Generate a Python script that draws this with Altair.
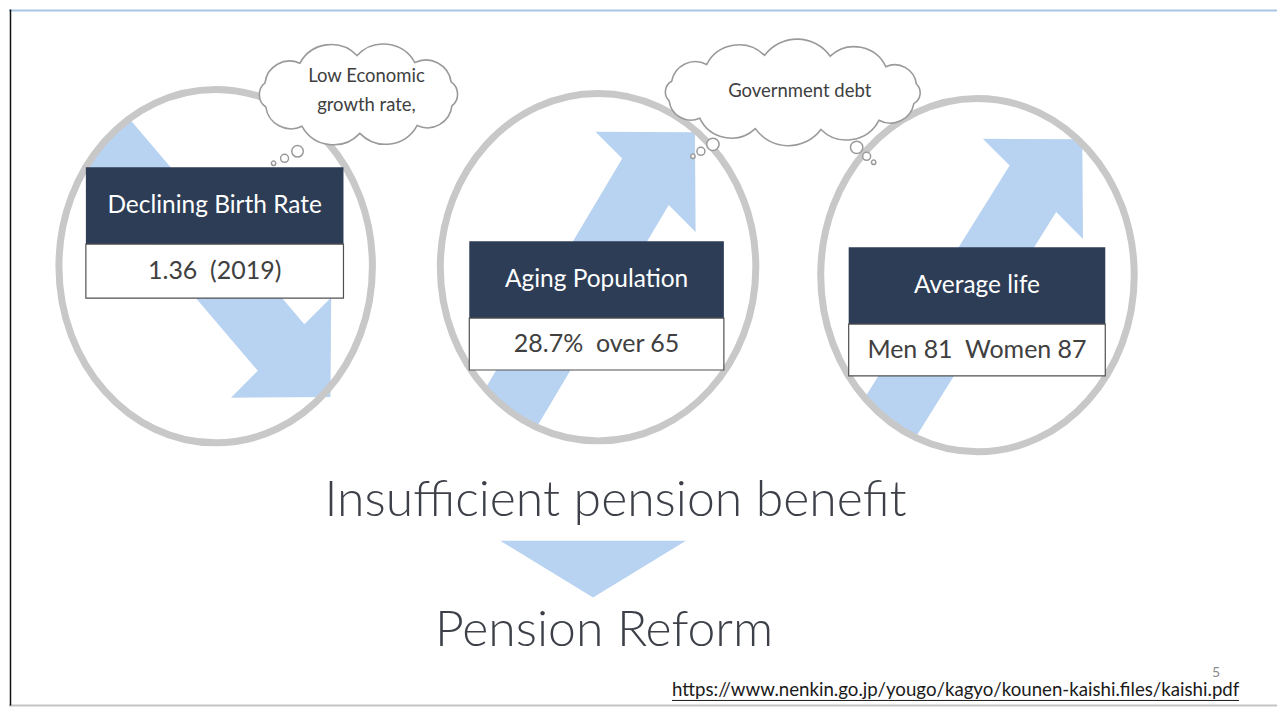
import math
import altair as alt
import pandas as pd

# ---------------- content (text) ----------------
factor_titles = ["Declining Birth Rate", "Aging Population", "Average life"]
factor_values = ["1.36  (2019)", "28.7%  over 65", "Men 81  Women 87"]
thought_text = ["Low Economic", "growth rate,", "Government debt"]
conclusion_text = ["Insufficient pension benefit", "Pension Reform"]
source_url = "https://www.nenkin.go.jp/yougo/kagyo/kounen-kaishi.files/kaishi.pdf"
page_number = "5"

# ---------------- layout (page pixels) ----------------
W, H = 1270, 699
X0, Y0 = 8, 8

ring_cx = [215, 598, 978]
ring_cy = [265, 266, 274]
ring_rx = [157, 158, 157]
ring_ry = [177, 174, 177]

arrow_tail = [(92, 125), (490, 442), (876, 440)]
arrow_tip = [(330, 396), (695, 131), (1083, 138)]
arrow_head_dir = [(1, 1), (1, -1), (1, -1)]

box_x1 = [85, 469, 849]
box_x2 = [343, 724, 1106]
box_top = [166, 240, 246]
box_mid = [243, 317, 323]
box_bot = [297, 369, 375]

cloud_cx = [358, 793]
cloud_cy = [93, 91]
cloud_rx = [110, 139]
cloud_ry = [51, 50]
cloud_n = [10, 12]

bubble_x = [297, 284, 273, 713, 701, 693, 857, 867, 874]
bubble_y = [150, 157, 162, 143, 150, 155, 146, 155, 161]
bubble_r = [6.5, 4.5, 2.5, 7, 4.5, 2.5, 7, 4.5, 2.5]

thought_x = [366, 366, 800]
thought_y = [75, 104, 90]

FONT = "Lato"
BLUE = "#b8d3f1"
NAVY = "#2e3d56"
GRAY_TXT = "#404040"

xs = alt.Scale(domain=[X0, X0 + W], nice=False, zero=False)
ys = alt.Scale(domain=[Y0, Y0 + H], nice=False, zero=False, reverse=True)


def X(f):
    return alt.X(f + ":Q", scale=xs, axis=None)


def Y(f):
    return alt.Y(f + ":Q", scale=ys, axis=None)


def fmt(v):
    return f"{v:.1f}"


def keep_spaces(s):
    return s.replace("  ", " \u00a0")


def ellipse_path(rx, ry):
    return (f"M {-rx} 0 A {rx} {ry} 0 1 0 {rx} 0 "
            f"A {rx} {ry} 0 1 0 {-rx} 0 Z")


def arrow_path(tail, tip, hdir, ring, w=33, hw=71, hl=70):
    """Arrow polygon: 90-degree head along hdir, shaft from tail, tail end clipped to ring."""
    cx, cy, rx, ry = ring
    rx, ry = rx + 1, ry + 1
    hL = math.hypot(*hdir)
    hx, hy = hdir[0] / hL, hdir[1] / hL
    mx, my = -hy, hx
    bx, by = tip[0] - hl * hx, tip[1] - hl * hy
    dx, dy = bx - tail[0], by - tail[1]
    L = math.hypot(dx, dy)
    ux, uy = dx / L, dy / L

    def exit_pt(ax, ay):
        a = (ux / rx) ** 2 + (uy / ry) ** 2
        b = -2 * ((ax - cx) * ux / rx ** 2 + (ay - cy) * uy / ry ** 2)
        c = ((ax - cx) / rx) ** 2 + ((ay - cy) / ry) ** 2 - 1
        t = (-b + math.sqrt(max(b * b - 4 * a * c, 0))) / (2 * a)
        return ax - t * ux, ay - t * uy

    sp = (bx + w * mx, by + w * my)
    sm = (bx - w * mx, by - w * my)
    ep = exit_pt(*sp)
    em = exit_pt(*sm)
    pts = [ep, sp, (bx + hw * mx, by + hw * my), tip,
           (bx - hw * mx, by - hw * my), sm, em]
    th1 = math.atan2((em[1] - cy) / ry, (em[0] - cx) / rx)
    th2 = math.atan2((ep[1] - cy) / ry, (ep[0] - cx) / rx)
    dth = (th2 - th1 + math.pi) % (2 * math.pi) - math.pi
    for k in range(1, 12):
        th = th1 + dth * k / 12
        pts.append((cx + rx * math.cos(th), cy + ry * math.sin(th)))
    rel = [(p[0] - tip[0], p[1] - tip[1]) for p in pts]
    return "M " + " L ".join(f"{fmt(a)} {fmt(b)}" for a, b in rel) + " Z"


def cloud_path(rx, ry, n):
    pts = []
    for i in range(n):
        t = 2 * math.pi * i / n + 0.3
        pts.append((rx * math.cos(t), ry * math.sin(t)))
    d = f"M {fmt(pts[0][0])} {fmt(pts[0][1])}"
    for i in range(n):
        p, q = pts[i], pts[(i + 1) % n]
        c = math.hypot(q[0] - p[0], q[1] - p[1])
        r = c * 0.62
        d += f" A {fmt(r)} {fmt(r)} 0 0 1 {fmt(q[0])} {fmt(q[1])}"
    return d + " Z"


# ---------------- tables ----------------
frame_h = pd.DataFrame({"x": [X0], "x2": [X0 + W], "y": [Y0 + 1]})
frame_b = pd.DataFrame({"x": [X0], "x2": [X0 + W], "y": [Y0 + H - 2]})
frame_v = pd.DataFrame({"x": [X0 + 1.5], "y": [Y0], "y2": [Y0 + H - 2]})

rings_geo = list(zip(ring_cx, ring_cy, ring_rx, ring_ry))
arrows = pd.DataFrame({
    "x": [t[0] for t in arrow_tip],
    "y": [t[1] for t in arrow_tip],
    "path": [arrow_path(a, b, h, g) for a, b, h, g in
             zip(arrow_tail, arrow_tip, arrow_head_dir, rings_geo)],
})
chevron = pd.DataFrame({"x": [593], "y": [597],
                        "path": ["M -93 -57 L 93 -57 L 0 0 Z"]})

rings = pd.DataFrame({
    "x": ring_cx, "y": ring_cy,
    "path": [ellipse_path(a, b) for a, b in zip(ring_rx, ring_ry)],
})

boxes = pd.DataFrame({
    "x1": box_x1, "x2": box_x2, "top": box_top, "mid": box_mid, "bot": box_bot,
    "title": factor_titles, "value": [keep_spaces(v) for v in factor_values],
})
boxes["cx"] = (boxes["x1"] + boxes["x2"]) / 2
boxes["ty"] = (boxes["top"] + boxes["mid"]) / 2
boxes["vy"] = (boxes["mid"] + boxes["bot"]) / 2

clouds = pd.DataFrame({
    "x": cloud_cx, "y": cloud_cy,
    "path": [cloud_path(a - 12, b - 12, n) for a, b, n in zip(cloud_rx, cloud_ry, cloud_n)],
})
bubbles = pd.DataFrame({"x": bubble_x, "y": bubble_y,
                        "s": [math.pi * r * r for r in bubble_r]})
thoughts = pd.DataFrame({"x": thought_x, "y": thought_y, "t": thought_text})

concl = pd.DataFrame({"x": [615.5, 604], "y": [515, 645], "t": conclusion_text})
url = pd.DataFrame({"x": [672], "y": [696], "t": [source_url]})
url_line = pd.DataFrame({"x": [672], "x2": [1240], "y": [700]})
page = pd.DataFrame({"x": [1217], "y": [677], "t": [page_number]})

# ---------------- layers ----------------
layers = []
layers.append(alt.Chart(frame_h).mark_rule(color="#a8c5e4", strokeWidth=2).encode(
    x=X("x"), x2="x2", y=Y("y")))
layers.append(alt.Chart(frame_b).mark_rule(color="#c4c4c4", strokeWidth=2).encode(
    x=X("x"), x2="x2", y=Y("y")))
layers.append(alt.Chart(frame_v).mark_rule(color="#111111", strokeWidth=1.5).encode(
    x=X("x"), y=Y("y"), y2="y2"))

layers.append(alt.Chart(arrows).mark_point(
    size=4, filled=True, fill=BLUE, strokeWidth=0, opacity=1, fillOpacity=1
).encode(x=X("x"), y=Y("y"), shape=alt.Shape("path:N", scale=None, legend=None)))
layers.append(alt.Chart(chevron).mark_point(
    size=4, filled=True, fill=BLUE, strokeWidth=0, opacity=1, fillOpacity=1
).encode(x=X("x"), y=Y("y"), shape=alt.Shape("path:N", scale=None, legend=None)))

layers.append(alt.Chart(rings).mark_point(
    size=4, filled=False, stroke="#c8c8c8", strokeWidth=7, opacity=1, strokeOpacity=1
).encode(x=X("x"), y=Y("y"), shape=alt.Shape("path:N", scale=None, legend=None)))

layers.append(alt.Chart(boxes).mark_rect(fill=NAVY, opacity=1).encode(
    x=X("x1"), x2="x2", y=Y("top"), y2="mid"))
layers.append(alt.Chart(boxes).mark_rect(fill="white", stroke="#505050", strokeWidth=1.2,
                                         opacity=1).encode(
    x=X("x1"), x2="x2", y=Y("mid"), y2="bot"))
layers.append(alt.Chart(boxes).mark_text(font=FONT, fontSize=24.5, color="white",
                                         baseline="middle", align="center").encode(
    x=X("cx"), y=Y("ty"), text="title:N"))
layers.append(alt.Chart(boxes).mark_text(font=FONT, fontSize=25, color=GRAY_TXT,
                                         baseline="middle", align="center").encode(
    x=X("cx"), y=Y("vy"), text="value:N"))

layers.append(alt.Chart(clouds).mark_point(
    size=4, fill="white", stroke="#9a9a9a", strokeWidth=1.6, opacity=1, fillOpacity=1,
    strokeOpacity=1
).encode(x=X("x"), y=Y("y"), shape=alt.Shape("path:N", scale=None, legend=None)))
layers.append(alt.Chart(bubbles).mark_point(
    shape="circle", fill="white", stroke="#9a9a9a", strokeWidth=1.5, opacity=1,
    fillOpacity=1, strokeOpacity=1
).encode(x=X("x"), y=Y("y"), size=alt.Size("s:Q", scale=None, legend=None)))
layers.append(alt.Chart(thoughts).mark_text(font=FONT, fontSize=18.5, color=GRAY_TXT,
                                            baseline="middle", align="center").encode(
    x=X("x"), y=Y("y"), text="t:N"))

layers.append(alt.Chart(concl).mark_text(font=FONT, fontSize=50, fontWeight=300,
                                         color="#3d4048", baseline="alphabetic",
                                         align="center").encode(
    x=X("x"), y=Y("y"), text="t:N"))
layers.append(alt.Chart(url).mark_text(font=FONT, fontSize=18.7, color="#1a1a1a",
                                       baseline="alphabetic", align="left").encode(
    x=X("x"), y=Y("y"), text="t:N"))
layers.append(alt.Chart(url_line).mark_rule(color="#1a1a1a", strokeWidth=1).encode(
    x=X("x"), x2="x2", y=Y("y")))
layers.append(alt.Chart(page).mark_text(font=FONT, fontSize=14, color="#8a8a8a",
                                        baseline="alphabetic", align="center").encode(
    x=X("x"), y=Y("y"), text="t:N"))

chart = alt.layer(*layers).properties(
    width=W, height=H, padding=0, background="white"
).configure_view(stroke=None)

chart.save("out.html", embed_options={"renderer": "svg", "actions": False})
